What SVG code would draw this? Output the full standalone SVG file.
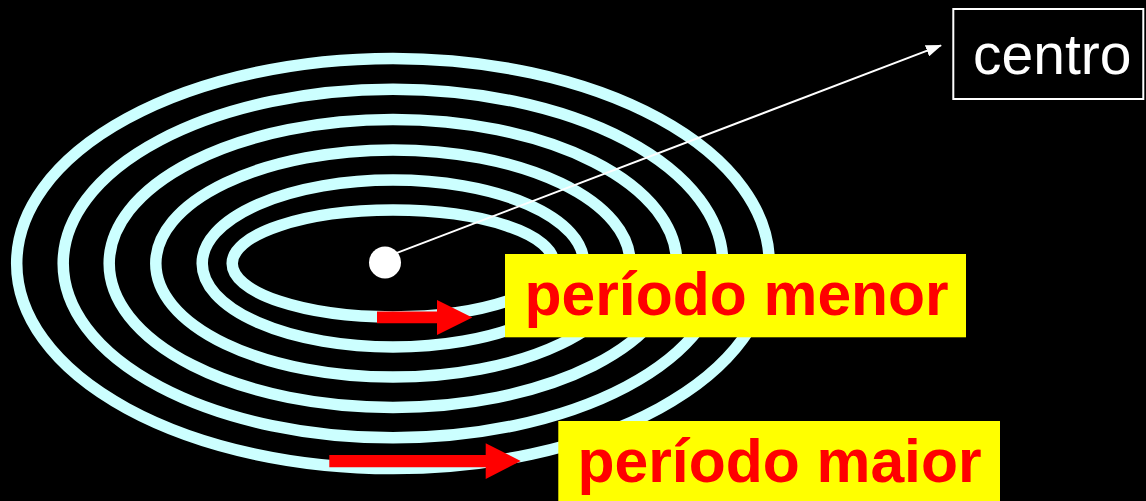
<svg xmlns="http://www.w3.org/2000/svg" width="1146" height="501" viewBox="0 0 1146 501">
  <style>
    .orbit { fill: none; stroke: #CCFFFF; stroke-width: 11.5; }
    .redarrow { fill: #FF0000; }
    .labelbox { fill: #FFFF00; }
    .label { font-family: "Liberation Sans", Arial, sans-serif; font-weight: bold; font-size: 60.6px; fill: #FF0000; }
    .centro { font-family: "Liberation Sans", Arial, sans-serif; font-size: 57px; fill: #FFFFFF; }
  </style>
  <defs>
    <marker id="whiteHead" viewBox="0 0 16 12" refX="15" refY="6" markerWidth="8" markerHeight="6" orient="auto" markerUnits="strokeWidth">
      <path d="M0,0 L16,6 L0,12 Z" fill="#FFFFFF"/>
    </marker>
  </defs>
  <rect x="0" y="0" width="1146" height="501" fill="#000000"/>

  <g id="orbits">
    <ellipse class="orbit" cx="393" cy="263.5" rx="376.3" ry="205"/>
    <ellipse class="orbit" cx="393" cy="263.5" rx="329.8" ry="174.3"/>
    <ellipse class="orbit" cx="393" cy="263.5" rx="283.8" ry="143.9"/>
    <ellipse class="orbit" cx="393" cy="263.5" rx="237.2" ry="113.6"/>
    <ellipse class="orbit" cx="393" cy="263.5" rx="190.8" ry="83.5"/>
    <ellipse class="orbit" cx="393" cy="263.5" rx="160.8" ry="53.4"/>
  </g>

  <g id="connectors">
    <line x1="395" y1="253.6" x2="941" y2="45.4" stroke="#FFFFFF" stroke-width="2" marker-end="url(#whiteHead)"/>
  </g>

  <g id="centro-dot">
    <circle cx="385" cy="262.5" r="16" fill="#FFFFFF"/>
  </g>

  <g id="arrow-menor">
    <polygon class="redarrow" points="377,311.5 437,311.5 437,300 472.3,317.5 437,335 437,323.3 377,323.3"/>
  </g>
  <g id="arrow-maior">
    <polygon class="redarrow" points="329.3,455 485.7,455 485.7,443.3 520.7,461 485.7,479 485.7,467.3 329.3,467.3"/>
  </g>

  <g id="label-menor">
    <rect class="labelbox" x="505" y="254" width="461" height="83.3"/>
    <text class="label" x="524.5" y="315">período menor</text>
  </g>
  <g id="label-maior">
    <rect class="labelbox" x="558.3" y="421" width="441.7" height="82"/>
    <text class="label" x="577.5" y="481.7">período maior</text>
  </g>

  <g id="label-centro">
    <rect x="953.3" y="9" width="190" height="90" fill="#000000" stroke="#FFFFFF" stroke-width="2"/>
    <text class="centro" x="973" y="74">centro</text>
  </g>
</svg>
